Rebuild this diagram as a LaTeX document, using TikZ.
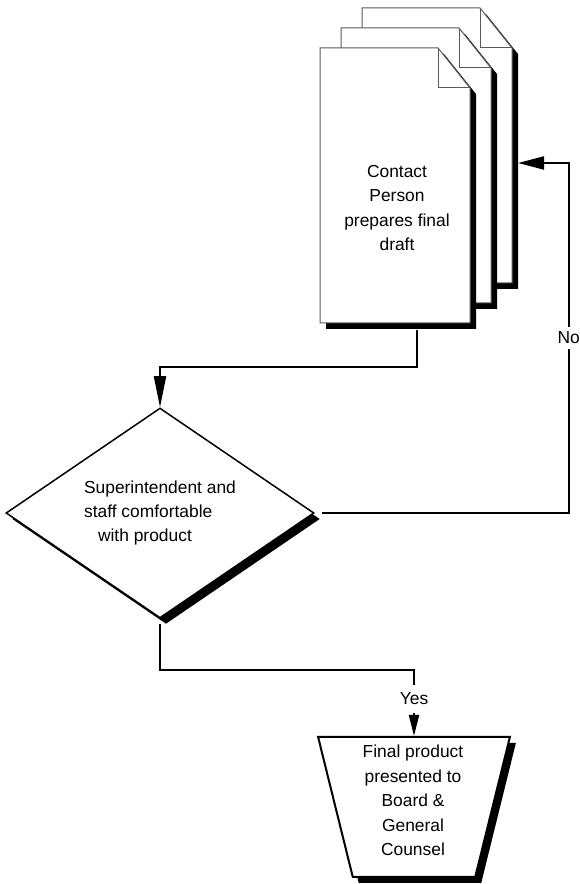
\documentclass[tikz,border=0pt]{standalone}
\usepackage{fontspec}
\setmainfont{Liberation Sans}
\usepackage{tikz}
\usetikzlibrary{shapes.geometric,arrows.meta,shadows}
\definecolor{sheetgrey}{RGB}{90,90,90}

\begin{document}
\begin{tikzpicture}[
    x=1pt, y=1pt,
    every node/.style={font=\fontsize{17.4}{24.4}\selectfont, align=center},
    sheet/.style={fill=white, draw=sheetgrey, line width=1pt},
    flowshadow/.style={drop shadow={shadow xshift=6pt, shadow yshift=-6pt,
                       fill=black, opacity=1}},
    decision/.style={diamond, draw, line width=1.5pt, fill=white, aspect=1.47,
                     inner sep=0pt, minimum width=308pt, minimum height=210pt, flowshadow},
    outcome/.style={trapezium, trapezium left angle=75, trapezium right angle=75,
                    shape border rotate=180, trapezium stretches=true, draw,
                    line width=2pt, fill=white, inner sep=0pt,
                    minimum width=192pt, minimum height=140pt, flowshadow},
    conn/.style={line width=2pt},
    lbl/.style={fill=white, inner xsep=3pt, inner ysep=4.5pt},
]
    \useasboundingbox (0,0) rectangle (579,884);

    % stack of three sheets, back one first
    \foreach \s in {2,1,0}{
        \begin{scope}[shift={({21*\s},{20*\s})}]
            \fill[black] (326,555) -- (326,830) -- (444,830) -- (476,790) -- (476,555) -- cycle;
            \filldraw[sheet] (320,561) -- (320,836) -- (438,836) -- (470,796) -- (470,561) -- cycle;
            \draw[sheet, fill=none] (438,836) -- (438,796) -- (470,796);
        \end{scope}
    }
    \node (draft) at (397,676) {Contact\\Person\\prepares final\\draft};
    \coordinate (draftfoot) at (417,554);
    \coordinate (stackside) at (518,721);

    \node[decision, align=left] (check) at (160,371)
        {Superintendent and\\staff comfortable\\\hspace*{14pt}with product};

    \node[outcome] (final) at (414,77) {\phantom{x}};
    \node (finalnote) at (413,83.5) {Final product\\presented to\\Board \&\\General\\Counsel};

    % connectors
    \draw[conn, -{Triangle[length=31pt, width=12pt]}]
        (draftfoot) -- ++(0,-37) -| (check.north);
    \draw[conn, -{Triangle[length=26pt, width=13pt]}]
        ([xshift=7pt]check.east) -- ++(247,0) |- node[lbl, pos=0.25] {No} (stackside);
    \draw[conn, -{Triangle[length=21pt, width=10pt]}]
        ([yshift=-5pt]check.south) -- ++(0,-46) -| node[lbl, inner ysep=8pt, pos=0.72] {Yes} (final.north);
\end{tikzpicture}
\end{document}
